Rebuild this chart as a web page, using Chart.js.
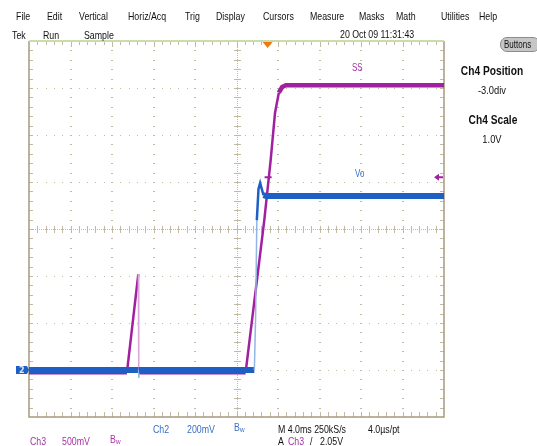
<!DOCTYPE html>
<html>
<head>
<meta charset="utf-8">
<script src="https://cdn.jsdelivr.net/npm/chart.js@4.4.0/dist/chart.umd.min.js"></script>
<style>
    body { margin: 0; background: #fff; width: 537px; height: 446px; overflow: hidden; position: relative;
           font-family: 'Liberation Sans', Arial, sans-serif; font-size: 11px; color: #111; }
    #scope { position: absolute; left: 0; top: 0; }
    /* the scope UI font is narrow, so squeeze a normal sans */
    .t { position: absolute; white-space: nowrap; line-height: 12px; transform: scaleX(0.8); transform-origin: 0 0; }
    .c { width: 100px; text-align: center; transform: scaleX(0.85); transform-origin: 50% 0; }
    .b { font-weight: bold; font-size: 12px; }
    .mag { color: #a832a8; }
    .blu { color: #3a6ec4; }
    .lbl { font-size: 10px; }
    .t sub { font-size: 8px; vertical-align: -1px; }
    #btn { position: absolute; left: 500px; top: 37px; width: 40px; height: 15px; border-radius: 7px;
           background: #c6c6c6; border: 1px solid #8c8c8c; box-sizing: border-box; }
    #btn span { position: absolute; left: 3px; top: 1px; font-size: 10px; line-height: 12px; transform: scaleX(0.8); transform-origin: 0 0; }
</style>
</head>
<body>
<canvas id="scope" width="537" height="446"></canvas>

<!-- menu bar -->
<div class="t" style="left:16px;top:10px">File</div>
<div class="t" style="left:47px;top:10px">Edit</div>
<div class="t" style="left:79px;top:10px">Vertical</div>
<div class="t" style="left:128px;top:10px">Horiz/Acq</div>
<div class="t" style="left:185px;top:10px">Trig</div>
<div class="t" style="left:216px;top:10px">Display</div>
<div class="t" style="left:263px;top:10px">Cursors</div>
<div class="t" style="left:310px;top:10px">Measure</div>
<div class="t" style="left:359px;top:10px">Masks</div>
<div class="t" style="left:396px;top:10px">Math</div>
<div class="t" style="left:441px;top:10px">Utilities</div>
<div class="t" style="left:479px;top:10px">Help</div>

<!-- status row -->
<div class="t" style="left:12px;top:29px">Tek</div>
<div class="t" style="left:43px;top:29px">Run</div>
<div class="t" style="left:84px;top:29px">Sample</div>
<div class="t" style="left:340px;top:28px">20 Oct 09 11:31:43</div>
<div id="btn"><span>Buttons</span></div>

<!-- side panel -->
<div class="t b c" style="left:442px;top:65px">Ch4 Position</div>
<div class="t c" style="left:442px;top:84px">-3.0div</div>
<div class="t b c" style="left:443px;top:114px">Ch4 Scale</div>
<div class="t c" style="left:442px;top:133px">1.0V</div>

<!-- trace labels -->
<div class="t mag lbl" style="left:352px;top:62px">SS</div>
<div class="t blu lbl" style="left:355px;top:168px">Vo</div>

<!-- readouts -->
<div class="t blu" style="left:153px;top:423px">Ch2</div>
<div class="t blu" style="left:187px;top:423px">200mV</div>
<div class="t blu" style="left:234px;top:421px">B<sub>w</sub></div>
<div class="t" style="left:278px;top:423px">M 4.0ms 250kS/s</div>
<div class="t" style="left:368px;top:423px">4.0µs/pt</div>
<div class="t mag" style="left:30px;top:435px">Ch3</div>
<div class="t mag" style="left:62px;top:435px">500mV</div>
<div class="t mag" style="left:110px;top:433px">B<sub>w</sub></div>
<div class="t" style="left:278px;top:435px">A</div>
<div class="t mag" style="left:288px;top:435px">Ch3</div>
<div class="t" style="left:310px;top:435px">/</div>
<div class="t" style="left:320px;top:435px">2.05V</div>

<script>
// screen is 10 x 8 divisions; x in divisions from the left edge, y in divisions from centre
const X_DIVS = 10;
const Y_DIVS = 8;

// Ch2 (Vo)
const voTime  = [0, 2.64, 2.645, 2.65, 5.43, 5.46, 5.49, 5.53, 5.57, 5.61, 5.65, 5.72, 10];
const voLevel = [-3.0, -3.0, -3.17, -3.0, -3.0, -1.9, 0.19, 0.85, 0.98, 0.85, 0.72, 0.70, 0.70];

// Ch3 (SS)
const ssTime  = [0, 2.36, 2.634, 2.645, 5.22, 5.67, 5.824, 5.928, 6.02, 6.1, 6.19, 10];
const ssLevel = [-3.05, -3.05, -0.96, -3.05, -3.05, 0.19, 1.47, 2.47, 2.9, 3.02, 3.06, 3.06];

// trigger: position in divisions, Ch3 level 2.05 V at 500 mV/div above its ground
const TRIG_POS = 5.75;
const CH3_GND = -3.0;
const TRIG_LEVEL = CH3_GND + 2.05 / 0.5;
const CH2_GND = -3.0;

const GRID = '#c2b9a3';
const FRAME = '#a8997f';

function steep(c) {
    return Math.abs(c.p1.y - c.p0.y) / Math.max(Math.abs(c.p1.x - c.p0.x), 0.01);
}

// fast edges are drawn thin and pale, like the scope does
function traceStyle(dark, pale, flatWidth) {
    return {
        borderColor: c => steep(c) > 25 ? pale : dark,
        borderWidth: c => {
            const r = steep(c);
            return r > 25 ? 1.5 : (r > 2 ? 2.5 : flatWidth);
        }
    };
}

const graticule = {
    id: 'graticule',
    beforeDatasetsDraw(chart) {
        const { ctx, chartArea: a, scales: { x, y } } = chart;
        ctx.save();
        ctx.fillStyle = GRID;
        const yMin = -Y_DIVS / 2;

        // dotted division lines
        for (let i = 1; i < X_DIVS; i++) {
            if (i === X_DIVS / 2) continue;
            const px = Math.round(x.getPixelForValue(i));
            for (let j = 1; j < Y_DIVS * 5; j++) {
                ctx.fillRect(px - 1, Math.round(y.getPixelForValue(yMin + j / 5)), 2, 1);
            }
        }
        for (let j = 1; j < Y_DIVS; j++) {
            if (j === Y_DIVS / 2) continue;
            const py = Math.round(y.getPixelForValue(yMin + j));
            for (let i = 1; i < X_DIVS * 5; i++) {
                ctx.fillRect(Math.round(x.getPixelForValue(i / 5)), py, 1, 1);
            }
        }

        // centre cross with minor ticks
        const cx = Math.round(x.getPixelForValue(X_DIVS / 2));
        const cy = Math.round(y.getPixelForValue(0));
        for (let py = a.top; py < a.bottom; py += 2) ctx.fillRect(cx, py, 1, 1);
        for (let px = a.left; px < a.right; px += 2) ctx.fillRect(px, cy, 1, 1);
        for (let j = 1; j < Y_DIVS * 5; j++) {
            ctx.fillRect(cx - 3, Math.round(y.getPixelForValue(yMin + j / 5)), 7, 1);
        }
        for (let i = 1; i < X_DIVS * 5; i++) {
            ctx.fillRect(Math.round(x.getPixelForValue(i / 5)), cy - 3, 1, 7);
        }

        // edge ticks
        for (let i = 1; i < X_DIVS * 5; i++) {
            const px = Math.round(x.getPixelForValue(i / 5));
            const len = i % 5 === 0 ? 6 : 4;
            ctx.fillRect(px, a.top, 1, len);
            ctx.fillRect(px, a.bottom - 5, 1, 5);
        }
        for (let j = 1; j < Y_DIVS * 5; j++) {
            const py = Math.round(y.getPixelForValue(yMin + j / 5));
            ctx.fillRect(a.left, py, 4, 1);
            ctx.fillRect(a.right - 4, py, 4, 1);
        }

        // frame
        ctx.strokeStyle = FRAME;
        ctx.lineWidth = 1.5;
        ctx.beginPath();
        ctx.moveTo(a.left, a.top);
        ctx.lineTo(a.left, a.bottom);
        ctx.lineTo(a.right, a.bottom);
        ctx.lineTo(a.right, a.top);
        ctx.stroke();
        ctx.strokeStyle = '#c9dca9';
        ctx.lineWidth = 2;
        ctx.beginPath();
        ctx.moveTo(a.left, a.top);
        ctx.lineTo(a.right, a.top);
        ctx.stroke();
        ctx.restore();
    },
    afterDraw(chart) {
        const { ctx, chartArea: a, scales: { x, y } } = chart;
        ctx.save();

        // trigger position marker
        const tx = x.getPixelForValue(TRIG_POS);
        ctx.fillStyle = '#f07a12';
        ctx.beginPath();
        ctx.moveTo(tx - 5, a.top + 1);
        ctx.lineTo(tx + 5, a.top + 1);
        ctx.lineTo(tx, a.top + 7);
        ctx.closePath();
        ctx.fill();

        // trigger level on the SS trace and at the right edge
        const ty = y.getPixelForValue(TRIG_LEVEL);
        ctx.strokeStyle = '#a0209f';
        ctx.lineWidth = 2;
        ctx.beginPath();
        ctx.moveTo(tx - 3, ty);
        ctx.lineTo(tx + 4, ty);
        ctx.moveTo(a.right - 6, ty);
        ctx.lineTo(a.right - 1, ty);
        ctx.stroke();
        ctx.fillStyle = '#a0209f';
        ctx.beginPath();
        ctx.moveTo(a.right - 10, ty);
        ctx.lineTo(a.right - 5, ty - 3.5);
        ctx.lineTo(a.right - 5, ty + 3.5);
        ctx.closePath();
        ctx.fill();

        // Ch2 ground marker
        const gy = y.getPixelForValue(CH2_GND);
        ctx.fillStyle = '#1d5fc4';
        ctx.beginPath();
        ctx.moveTo(16, gy - 4);
        ctx.lineTo(a.left - 2, gy - 4);
        ctx.lineTo(a.left, gy);
        ctx.lineTo(a.left - 2, gy + 4);
        ctx.lineTo(16, gy + 4);
        ctx.closePath();
        ctx.fill();
        ctx.fillStyle = '#dfe8f8';
        ctx.font = 'bold 8px "DejaVu Sans"';
        ctx.textBaseline = 'middle';
        ctx.fillText('2', 19, gy + 0.5);
        ctx.restore();
    }
};

new Chart(document.getElementById('scope'), {
    type: 'line',
    data: {
        datasets: [
            {
                label: 'Vo',
                data: voTime.map((t, i) => ({ x: t, y: voLevel[i] })),
                borderColor: '#1d5fc4',
                borderWidth: 6,
                pointRadius: 0,
                tension: 0,
                order: 0,
                segment: traceStyle('#1d5fc4', '#93b4e6', 6)
            },
            {
                label: 'SS',
                data: ssTime.map((t, i) => ({ x: t, y: ssLevel[i] })),
                borderColor: '#a0209f',
                borderWidth: 4.5,
                pointRadius: 0,
                tension: 0,
                order: 1,
                segment: traceStyle('#a0209f', '#dba7da', 4.5)
            }
        ]
    },
    options: {
        responsive: false,
        animation: false,
        layout: { padding: { left: 29, top: 41, right: 93, bottom: 29 } },
        plugins: { legend: { display: false }, tooltip: { enabled: false } },
        scales: {
            x: { type: 'linear', display: false, min: 0, max: X_DIVS },
            y: { type: 'linear', display: false, min: -Y_DIVS / 2, max: Y_DIVS / 2 }
        }
    },
    plugins: [graticule]
});
</script>
</body>
</html>
